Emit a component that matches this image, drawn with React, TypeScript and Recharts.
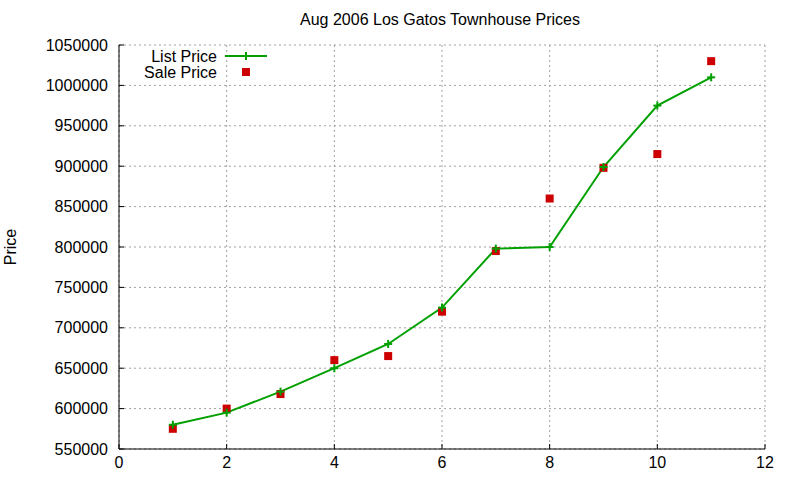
import React from 'react';
import { ComposedChart, Line, Scatter, XAxis, YAxis, CartesianGrid, Legend } from 'recharts';

const xValues = [1, 2, 3, 4, 5, 6, 7, 8, 9, 10, 11];
const listPrice = [580000, 595000, 621000, 650000, 680000, 725000, 798000, 800000, 899000, 975000, 1010000];
const salePrice = [575000, 600000, 618000, 660000, 665000, 720000, 795000, 860000, 898000, 915000, 1030000];
const xTicks = [0, 2, 4, 6, 8, 10, 12];
const yTicks = [550000, 600000, 650000, 700000, 750000, 800000, 850000, 900000, 950000, 1000000, 1050000];
const title = 'Aug 2006 Los Gatos Townhouse Prices';
const yLabel = 'Price';
const listName = 'List Price';
const saleName = 'Sale Price';

const data = xValues.map((x, i) => ({ x, list: listPrice[i], sale: salePrice[i] }));

const FONT = '"Liberation Sans", Arial, sans-serif';
const GREEN = '#00a000';
const RED = '#cc0000';
const TICK = 5;

const BottomTick = (props: any) => {
  const { x, y, payload } = props;
  return (
    <g>
      <line x1={x} x2={x} y1={y} y2={y - TICK} stroke="#000" />
      <text x={x} y={y + 13} textAnchor="middle" dominantBaseline="central" fontSize={16} fontFamily={FONT} fill="#000">
        {payload.value}
      </text>
    </g>
  );
};

const LeftTick = (props: any) => {
  const { x, y, payload } = props;
  return (
    <g>
      <line x1={x} x2={x + TICK} y1={y} y2={y} stroke="#000" />
      <text x={x - 11} y={y} textAnchor="end" dominantBaseline="central" fontSize={16} fontFamily={FONT} fill="#000">
        {payload.value}
      </text>
    </g>
  );
};

const TopTick = (props: any) => {
  const { x, y } = props;
  return <line x1={x} x2={x} y1={y} y2={y + TICK} stroke="#000" />;
};

const RightTick = (props: any) => {
  const { x, y } = props;
  return <line x1={x} x2={x - TICK} y1={y} y2={y} stroke="#000" />;
};

const Plus = (props: any) => {
  const { cx, cy } = props;
  if (cx == null || cy == null) return <g key={props.key} />;
  return (
    <g key={`p-${props.index}`}>
      <line x1={cx - 4} x2={cx + 4} y1={cy} y2={cy} stroke={GREEN} strokeWidth={2} />
      <line x1={cx} x2={cx} y1={cy - 4} y2={cy + 4} stroke={GREEN} strokeWidth={2} />
    </g>
  );
};

const Square = (props: any) => {
  const { cx, cy } = props;
  return <rect x={cx - 4} y={cy - 4} width={8} height={8} fill={RED} />;
};

const LegendContent = () => (
  <svg width={140} height={36} style={{ display: 'block' }}>
    <text x={77} y={10} textAnchor="end" dominantBaseline="central" fontSize={16} fontFamily={FONT} fill="#000">
      {listName}
    </text>
    <line x1={85} x2={127} y1={10} y2={10} stroke={GREEN} strokeWidth={2} />
    <line x1={102} x2={110} y1={10} y2={10} stroke={GREEN} strokeWidth={2} />
    <line x1={106} x2={106} y1={6} y2={14} stroke={GREEN} strokeWidth={2} />
    <text x={77} y={26} textAnchor="end" dominantBaseline="central" fontSize={16} fontFamily={FONT} fill="#000">
      {saleName}
    </text>
    <rect x={102} y={22} width={8} height={8} fill={RED} />
  </svg>
);

export default function App() {
  return (
    <div style={{ position: 'absolute', left: 0, top: 0, width: 800, height: 480, background: '#fff', fontFamily: FONT }}>
      <div
        style={{
          position: 'absolute',
          left: 240,
          width: 400,
          top: 10,
          textAlign: 'center',
          fontSize: 16,
          lineHeight: '20px',
          color: '#000',
          whiteSpace: 'nowrap',
        }}
      >
        {title}
      </div>
      <ComposedChart width={800} height={480} data={data} margin={{ top: 45, right: 35, bottom: 1, left: 0 }}>
        <CartesianGrid stroke="#a0a0a0" strokeDasharray="2 3" />
        <XAxis
          dataKey="x"
          type="number"
          domain={[0, 12]}
          ticks={xTicks}
          interval={0}
          height={30}
          tickSize={0}
          tickMargin={0}
          tickLine={false}
          tick={<BottomTick />}
          axisLine={{ stroke: '#000' }}
        />
        <XAxis
          xAxisId="top"
          orientation="top"
          dataKey="x"
          type="number"
          domain={[0, 12]}
          ticks={xTicks}
          interval={0}
          height={0}
          tickSize={0}
          tickMargin={0}
          tickLine={false}
          tick={<TopTick />}
          axisLine={{ stroke: '#000' }}
        />
        <YAxis
          type="number"
          domain={[550000, 1050000]}
          ticks={yTicks}
          interval={0}
          width={119}
          tickSize={0}
          tickMargin={0}
          tickLine={false}
          tick={<LeftTick />}
          axisLine={{ stroke: '#000' }}
          label={{
            content: (p: any) => {
              const vb = p.viewBox || { x: 0, y: 45, width: 119, height: 404 };
              const cx = vb.x + 10;
              const cy = vb.y + vb.height / 2;
              return (
                <text
                  x={cx}
                  y={cy}
                  transform={`rotate(-90 ${cx} ${cy})`}
                  textAnchor="middle"
                  dominantBaseline="central"
                  fontSize={16}
                  fontFamily={FONT}
                  fill="#000"
                >
                  {yLabel}
                </text>
              );
            },
          }}
        />
        <YAxis
          yAxisId="right"
          orientation="right"
          type="number"
          domain={[550000, 1050000]}
          ticks={yTicks}
          interval={0}
          width={0}
          tickSize={0}
          tickMargin={0}
          tickLine={false}
          tick={<RightTick />}
          axisLine={{ stroke: '#000' }}
        />
        <Legend
          layout="vertical"
          align="center"
          verticalAlign="middle"
          wrapperStyle={{ position: 'absolute', left: 140, top: 46, width: 140, height: 36 }}
          content={<LegendContent />}
        />
        <Line
          dataKey="list"
          name={listName}
          stroke={GREEN}
          strokeWidth={2}
          dot={Plus}
          activeDot={false}
          isAnimationActive={false}
        />
        <Scatter dataKey="sale" name={saleName} fill={RED} shape={Square} isAnimationActive={false} />
      </ComposedChart>
    </div>
  );
}
